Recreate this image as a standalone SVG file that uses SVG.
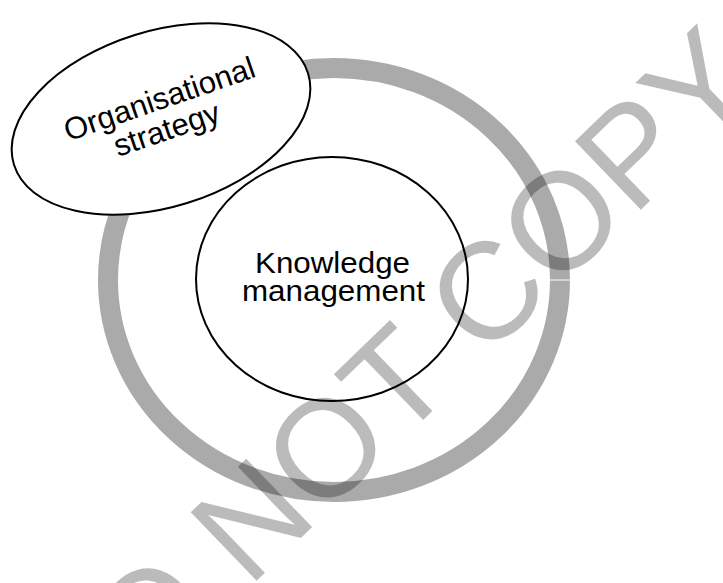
<svg xmlns="http://www.w3.org/2000/svg" width="723" height="583" viewBox="0 0 723 583">
<style>
.lbl{font-family:"Liberation Sans",Arial,sans-serif;fill:#000;text-anchor:middle}
.node{fill:#fff;stroke:#000;stroke-width:2}
.wm{font-family:"Liberation Sans",Arial,sans-serif;font-size:138px;fill:#000;fill-opacity:0.267}
</style>
<rect width="723" height="583" fill="#fff"/>
<g id="ring">
<ellipse cx="334" cy="280" rx="226" ry="212" fill="none" stroke="#aaa" stroke-width="20"/>
<line x1="547" y1="280" x2="571" y2="280" stroke="#fff" stroke-width="1"/>
</g>
<g id="connectors"></g>
<g id="org-strategy">
<ellipse class="node" cx="161" cy="119" rx="154" ry="88" transform="rotate(-17.3 161 119)"/>
<g transform="translate(161 119) rotate(-19)">
<text class="lbl" x="5" y="-9" font-size="31">Organisational</text>
<text class="lbl" x="2" y="22" font-size="31">strategy</text>
</g>
</g>
<g id="knowledge-management">
<ellipse class="node" cx="332" cy="279" rx="136" ry="122"/>
<text class="lbl" x="332.5" y="273" font-size="30" textLength="155" lengthAdjust="spacingAndGlyphs">Knowledge</text>
<text class="lbl" x="333.5" y="301" font-size="30" textLength="183" lengthAdjust="spacingAndGlyphs">management</text>
</g>
<g id="watermark">
<text class="wm" transform="translate(72 759) rotate(-44)">DO NOT COPY</text>
</g>
</svg>
